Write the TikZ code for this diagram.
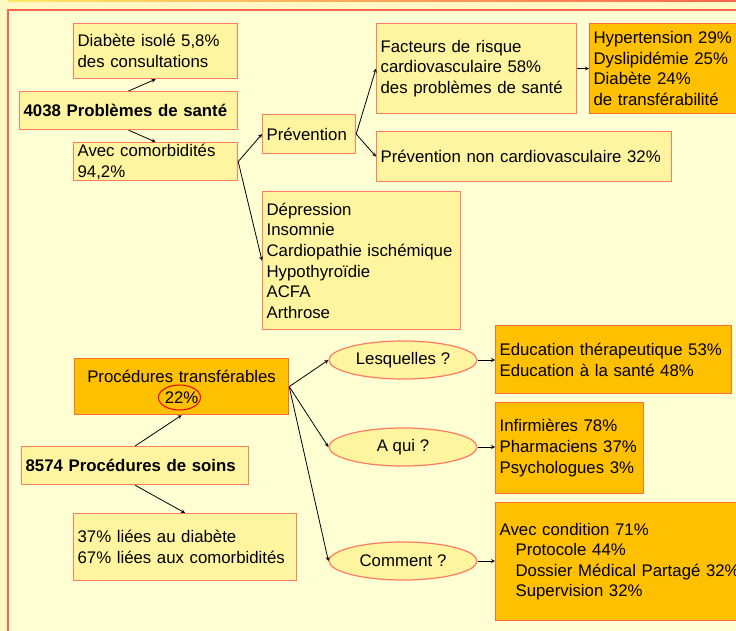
\documentclass[tikz,border=0pt]{standalone}
\usepackage{fontspec}
\setmainfont{Liberation Sans}
\usetikzlibrary{shapes.geometric}

\definecolor{fondclair}{HTML}{FFFFD4}
\definecolor{fondext}{HTML}{FFF7C4}
\definecolor{cadre}{HTML}{FF6450}
\definecolor{jaunepale}{HTML}{FFF5A0}
\definecolor{bordrose}{HTML}{FF7C60}
\definecolor{orangevif}{HTML}{FFC000}
\definecolor{bordor}{HTML}{FF6A3D}

\tikzset{
	boite/.style={draw=bordrose, fill=jaunepale, line width=1.2pt, anchor=north west,
		inner xsep=4pt, inner ysep=0pt, align=left, font=\fontsize{16.8}{20.6}\selectfont},
	boiteor/.style={boite, fill=orangevif, draw=bordor},
	question/.style={ellipse, draw=bordrose, fill=jaunepale, line width=1.2pt,
		minimum width=148pt, minimum height=38pt, inner sep=0pt, font=\fontsize{16.8}{20.6}\selectfont},
	fleche/.style={->, >=stealth, line width=0.8pt}
}

\begin{document}
\begin{tikzpicture}[x=1pt, y=-1pt]
		\clip (0,0) rectangle (736,631);
		\fill[fondext] (0,0) rectangle (736,631);
		\fill[fondclair] (8,10) rectangle (736,631);
		\shade[left color=yellow!70!orange!60, right color=cadre] (8,0) rectangle (736,1.5);
		\draw[cadre, line width=2pt] (8,640) -- (8,10) -- (740,10);

		% problemes de sante
		\node[boite, text width=156pt, minimum height=55pt] (diab) at (73,23) {Diabète isolé 5,8\%\\des consultations};
		\node[boite, text width=210pt, minimum height=38pt, font=\fontsize{16.8}{20.6}\selectfont\bfseries] (prob) at (19,91) {4038 Problèmes de santé};
		\node[boite, text width=156pt, minimum height=38pt] (avec) at (73,142) {Avec comorbidités\\94,2\%};
		\node[boite, text width=85pt, minimum height=39pt] (prev) at (262,114) {Prévention};
		\node[boite, text width=192pt, minimum height=90pt] (fact) at (376,23) {Facteurs de risque\\cardiovasculaire 58\%\\des problèmes de santé};
		\node[boiteor, text width=152pt, minimum height=90pt] (hyp) at (589,23) {Hypertension 29\%\\Dyslipidémie 25\%\\Diabète 24\%\\de transférabilité};
		\node[boite, text width=287pt, minimum height=50pt] (prevnc) at (376,131) {Prévention non cardiovasculaire 32\%};
		\node[boite, text width=190pt, minimum height=138pt] (depr) at (262,191) {Dépression\\Insomnie\\Cardiopathie ischémique\\Hypothyroïdie\\ACFA\\Arthrose};

		\draw[fleche] (prob.north) -- (diab.south);
		\draw[fleche] (prob.south) -- (avec.north);
		\draw[fleche] (avec.east) -- (prev.west);
		\draw[fleche] (avec.east) -- (depr.west);
		\draw[fleche] (prev.east) -- (fact.west);
		\draw[fleche] (prev.east) -- (prevnc.west);
		\draw[fleche] (fact.east) -- (hyp.west);

		% procedures de soins
		\node[boiteor, text width=206pt, minimum height=56pt, align=center] (transf) at (74,358) {Procédures transférables\\22\%};
		\node[ellipse, draw=red!90!black, line width=1pt, minimum width=42pt, minimum height=25pt, inner sep=0pt] (anneau) at (179.5,397.5) {};
		\node[boite, text width=219pt, minimum height=38pt, font=\fontsize{16.8}{20.6}\selectfont\bfseries] (soins) at (21,446) {8574 Procédures de soins};
		\node[boite, text width=215pt, minimum height=67pt] (lie) at (73,513) {37\% liées au diabète\\67\% liées aux comorbidités};

		\node[question] (quoi) at (403,360) {Lesquelles ?};
		\node[question] (qui) at (403,447) {A qui ?};
		\node[question] (comment) at (403,561) {Comment ?};

		\node[boiteor, text width=228pt, minimum height=68pt] (educ) at (495,325) {Education thérapeutique 53\%\\Education à la santé 48\%};
		\node[boiteor, text width=140pt, minimum height=91pt] (inf) at (495,402) {Infirmières 78\%\\Pharmaciens 37\%\\Psychologues 3\%};
		\node[boiteor, text width=252pt, minimum height=118pt] (cond) at (495,502) {Avec condition 71\%\\\hspace*{16pt}Protocole 44\%\\\hspace*{16pt}Dossier Médical Partagé 32\%\\\hspace*{16pt}Supervision 32\%};

		\draw[fleche] (soins.north) -- (transf.south);
		\draw[fleche] (soins.south) -- (lie.north);
		\draw[fleche] (transf.east) -- (quoi.west);
		\draw[fleche] (transf.east) -- (qui.west);
		\draw[fleche] (transf.east) -- (comment.west);
		\draw[fleche] (quoi.east) -- (educ.west |- quoi.east);
		\draw[fleche] (qui.east) -- (inf.west |- qui.east);
		\draw[fleche] (comment.east) -- (cond.west |- comment.east);
	\end{tikzpicture}
\end{document}
